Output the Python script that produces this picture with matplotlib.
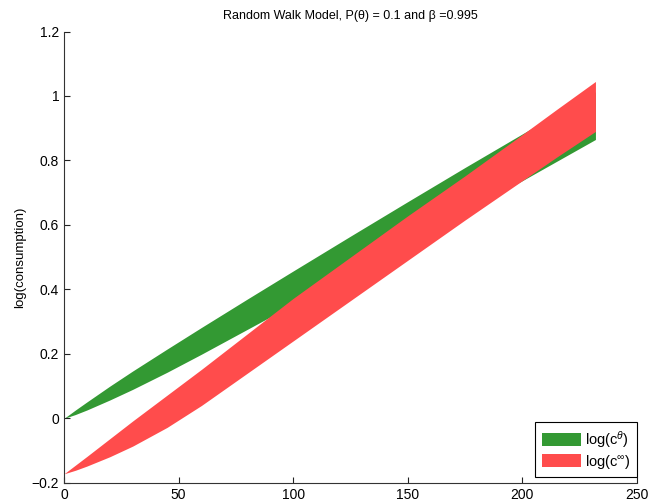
import numpy as np
import matplotlib
matplotlib.use("Agg")
import matplotlib.pyplot as plt

plt.rcParams["font.family"] = ["Liberation Sans", "DejaVu Sans"]
plt.rcParams["mathtext.fontset"] = "custom"
plt.rcParams["mathtext.rm"] = "Liberation Sans"
plt.rcParams["mathtext.it"] = "Liberation Sans:italic"

periods = [0, 5, 10, 20, 30, 45, 60, 80, 100, 125, 150, 175, 200, 215, 232]

# log(c^theta) band
theta_hi = [0, 0.026, 0.051, 0.100, 0.147, 0.215, 0.282, 0.370, 0.457, 0.565,
            0.672, 0.778, 0.882, 0.944, 1.013]
theta_lo = [0, 0.012, 0.026, 0.057, 0.090, 0.143, 0.199, 0.276, 0.353, 0.450,
            0.545, 0.640, 0.737, 0.797, 0.865]

# log(c^inf) band
inf_hi = [-0.172, -0.145, -0.118, -0.063, -0.008, 0.072, 0.152, 0.262, 0.372,
          0.500, 0.628, 0.752, 0.880, 0.958, 1.045]
inf_lo = [-0.172, -0.161, -0.148, -0.119, -0.086, -0.028, 0.040, 0.140, 0.240,
          0.365, 0.490, 0.615, 0.737, 0.810, 0.890]

GREEN = "#339933"
RED = "#ff4c4c"

fig = plt.figure(figsize=(6.52, 5.04), dpi=100)
ax = fig.add_axes([0.0982, 0.042, 0.8783, 0.8955])

ax.fill_between(periods, theta_lo, theta_hi, color=GREEN, lw=0,
                label=r"log(c$^{\theta}$)")
ax.fill_between(periods, inf_lo, inf_hi, color=RED, lw=0,
                label=r"log(c$^{\infty}$)")

ax.set_xlim(0, 250)
ax.set_ylim(-0.2, 1.2)
ax.set_xticks([0, 50, 100, 150, 200, 250])
ax.set_yticks([-0.2, 0, 0.2, 0.4, 0.6, 0.8, 1, 1.2])
ax.set_yticklabels(["\u22120.2", "0", "0.2", "0.4", "0.6", "0.8", "1", "1.2"])
ax.tick_params(direction="in", length=4, width=0.8, labelsize=10,
               colors="#222222", labelcolor="black")
for s in ("top", "right"):
    ax.spines[s].set_visible(False)
for s in ("left", "bottom"):
    ax.spines[s].set_color("#333333")
    ax.spines[s].set_linewidth(0.8)

ax.set_ylabel("log(consumption)", fontsize=9.5, labelpad=4)
ax.set_title("Random Walk Model, P(\u03b8) = 0.1 and \u03b2 =0.995",
             fontsize=9, pad=9)

leg = ax.legend(loc="lower right", bbox_to_anchor=(1.0, 0.012), fontsize=10.5,
                frameon=True, fancybox=False, framealpha=1, edgecolor="black",
                handlelength=2.7, handleheight=1.0, handletextpad=0.25,
                borderpad=0.45, labelspacing=0.2, borderaxespad=0)
leg.get_frame().set_linewidth(0.8)

fig.savefig("out.png", dpi=100)
